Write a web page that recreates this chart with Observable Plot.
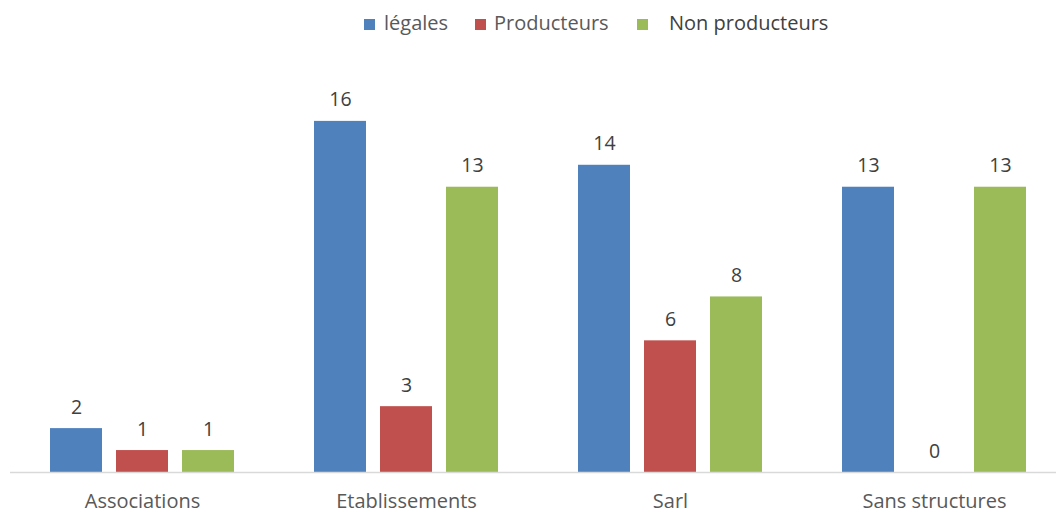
<!DOCTYPE html>
<html><head><meta charset="utf-8">
<script src="https://cdn.jsdelivr.net/npm/d3@7"></script>
<script src="https://cdn.jsdelivr.net/npm/@observablehq/plot@0.6"></script>
<style>
body{margin:0;background:#fff;overflow:hidden;font-family:"Open Sans",sans-serif;}
#wrap{position:relative;width:1056px;height:513px;overflow:hidden;}
#chart svg{max-width:none !important;}
#legend{position:absolute;top:10px;left:0;width:1056px;height:30px;font-size:20px;color:#595959;}
.item{position:absolute;top:0;line-height:26px;white-space:nowrap;}
.sw{position:absolute;top:9px;width:11px;height:11px;}
</style></head>
<body><div id="wrap"><div id="legend"></div><div id="chart"></div></div>
<script>
const categories = ["Associations", "Etablissements", "Sarl", "Sans structures"];
const series = ["légales", "Producteurs", "Non producteurs"];
const legales = [2, 16, 14, 13];
const producteurs = [1, 3, 6, 0];
const nonProducteurs = [1, 13, 8, 13];
const colors = ["#4F81BD", "#C0504D", "#9BBB59"];

const values = [legales, producteurs, nonProducteurs];
const data = [];
categories.forEach((c, i) => series.forEach((s, j) => data.push({cat: c, ser: s, v: values[j][i]})));

const chart = Plot.plot({
  width: 1066, height: 513,
  marginLeft: 9, marginRight: 0, marginTop: 77, marginBottom: 41,
  style: {fontFamily: "'Open Sans', sans-serif", fontSize: "20px", color: "#595959", background: "transparent", maxWidth: "none"},
  fx: {domain: categories, padding: 0, label: null, axis: "bottom", tickSize: 0, tickPadding: 21},
  x: {domain: series, paddingInner: 0.21, paddingOuter: 0.6, axis: null},
  y: {domain: [0, 18], axis: null},
  color: {domain: series, range: colors},
  marks: [
    Plot.barY(data, {fx: "cat", x: "ser", y: "v", fill: "ser"}),
    Plot.ruleY([0], {stroke: "#d9d9d9", strokeWidth: 1.5, facetAnchor: null}),
    Plot.text(data, {fx: "cat", x: "ser", y: "v", text: d => String(d.v), lineAnchor: "bottom", dy: -15, fill: "#404040", fontSize: 19.5})
  ]
});
document.getElementById("chart").appendChild(chart);

const leg = document.getElementById("legend");
const items = [{sw: 364, tx: 384}, {sw: 475, tx: 494}, {sw: 637, tx: 669}];
series.forEach((s, i) => {
  const d = document.createElement("div");
  d.className = "item";
  d.style.left = items[i].sw + "px";
  d.innerHTML = `<span class="sw" style="left:0;background:${colors[i]}"></span><span style="position:absolute;left:${items[i].tx - items[i].sw}px;${i===2?'color:#404040':''}">${s}</span>`;
  leg.appendChild(d);
});
</script></body></html>
